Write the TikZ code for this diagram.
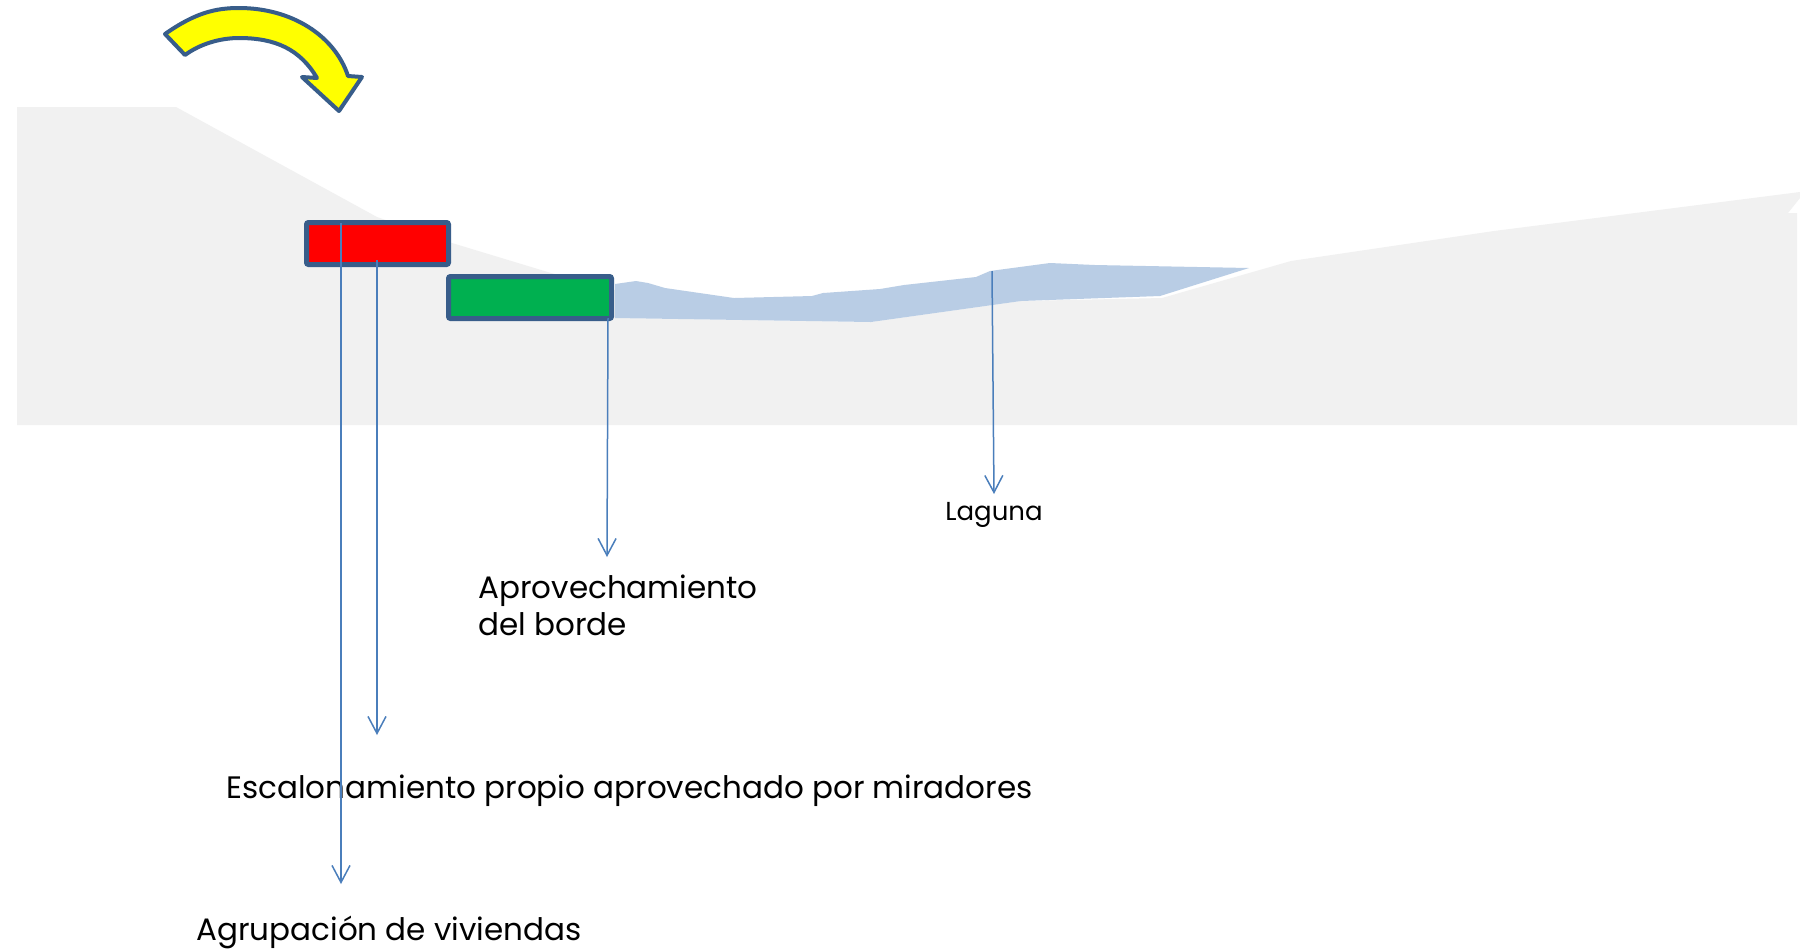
\documentclass[tikz,border=0pt]{standalone}
\usepackage{fontspec}
\setmainfont{Poppins}
\usetikzlibrary{arrows.meta}
\definecolor{terrain}{HTML}{F1F1F1}
\definecolor{lagoon}{HTML}{B9CDE5}
\definecolor{edgeblue}{HTML}{385D8A}
\definecolor{linkblue}{HTML}{4A7EBB}
\definecolor{boxred}{HTML}{FF0000}
\definecolor{boxgreen}{HTML}{00B050}
\definecolor{arrowyellow}{HTML}{FFFF00}
\begin{document}
\begin{tikzpicture}[x=0.5pt,y=-0.5pt,
  block/.style={draw=edgeblue, line width=2.5pt, rounded corners=1pt, inner sep=0pt, minimum height=21pt},
  link/.style={draw=linkblue, line width=0.75pt, -{Straight Barb[length=8.5pt,width=9pt,line width=0.75pt]}},
  lbl/.style={inner sep=0pt, anchor=base west, font=\fontsize{15.5}{18}\selectfont},
  small/.style={inner sep=0pt, anchor=base, font=\fontsize{13}{15}\selectfont}]
\useasboundingbox (0,0) rectangle (1800,950);
\fill[white] (0,0) rectangle (1800,950);
% terrain
\fill[terrain] (17,107) -- (176,107) -- (377,217) -- (452,243) -- (551,273) -- (615,290)
  -- (615,318) -- (871,322) -- (1021,301) -- (1162,298) -- (1291,261) -- (1494,231)
  -- (1800,192) -- (1800,198) -- (1788,213) -- (1797,213) -- (1797,425) -- (17,425) -- cycle;
% lagoon
\fill[lagoon] (615,284) -- (636,281) -- (648,283) -- (665,288) -- (734,298) -- (812,296)
  -- (823,293) -- (880,289) -- (904,285) -- (976,277) -- (990,271) -- (1050,263)
  -- (1095,265) -- (1249,268) -- (1160,296) -- (1021,301) -- (871,322) -- (615,318) -- cycle;
% yellow arrow
\draw[edgeblue, line width=2pt, fill=arrowyellow, line join=round]
  (165,34) .. controls (195,13) and (215,8) .. (239,8)
  .. controls (292,8) and (335,36) .. (348,76)
  -- (362,77) -- (339,111) -- (302,77) -- (317,78)
  .. controls (300,49) and (275,38) .. (239,38)
  .. controls (220,38) and (200,44) .. (185,55) -- cycle;
% boxes
\node[block, fill=boxred, minimum width=71pt] (red) at (377.5,243.5) {};
\node[block, fill=boxgreen, minimum width=81.5pt] (green) at (530,297.5) {};
% labels
\node[small] (laguna) at (994,520) {Laguna};
\node[lbl] (aprov) at (478,598) {Aprovechamiento};
\node[lbl] (borde) at (478,635) {del borde};
\node[lbl] (escal) at (226,798) {Escalonamiento propio aprovechado por miradores};
\node[lbl] (agrup) at (196,940) {Agrupación de viviendas};
% connector ends
\coordinate (sA) at (341,223);
\coordinate (eA) at (341,884);
\coordinate (sB) at (377,260);
\coordinate (eB) at (377,735);
\coordinate (sC) at (608,318);
\coordinate (eC) at (607,557);
\coordinate (sD) at (992,271);
\coordinate (eD) at (994,494);
\draw[link] (sA) -- (eA);
\draw[link] (sB) -- (eB);
\draw[link] (sC) -- (eC);
\draw[link] (sD) -- (eD);
\end{tikzpicture}
\end{document}
